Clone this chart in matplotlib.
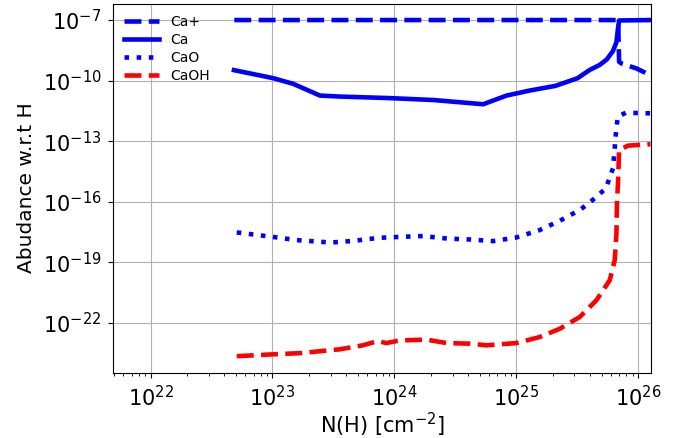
import numpy as np
import matplotlib
matplotlib.use('Agg')
import matplotlib.pyplot as plt
from matplotlib.ticker import NullLocator

# log10 N(H) and log10 abundance
x_cap = [22.687, 23.0, 23.5, 24.0, 24.5, 25.0, 25.5, 25.8, 25.835, 25.843, 25.863, 25.986, 26.10]
y_cap = [-7.0, -7.0, -7.0, -7.0, -7.0, -7.0, -7.0, -7.0, -7.0, -9.07, -9.15, -9.40, -9.73]

x_ca = [22.684, 23.007, 23.170, 23.389, 23.553, 23.936, 24.318, 24.728, 24.920, 25.111,
        25.321, 25.502, 25.602, 25.684, 25.742, 25.791, 25.821, 25.834, 25.843, 26.10]
y_ca = [-9.48, -9.88, -10.16, -10.74, -10.79, -10.86, -10.96, -11.17, -10.74, -10.49,
        -10.26, -9.88, -9.47, -9.22, -8.95, -8.55, -8.10, -7.40, -7.02, -7.0]

x_cao = [22.707, 23.0, 23.198, 23.48, 23.662, 23.867, 24.045, 24.236, 24.428, 24.619,
         24.81, 25.0, 25.193, 25.357, 25.52, 25.6, 25.657, 25.734, 25.793, 25.807,
         25.821, 25.834, 25.898, 26.10]
y_cao = [-17.52, -17.74, -17.90, -18.02, -17.94, -17.79, -17.74, -17.70, -17.82, -17.87,
         -17.95, -17.77, -17.40, -16.94, -16.41, -16.05, -15.75, -15.34, -14.34, -13.35,
         -12.28, -11.78, -11.59, -11.62]

x_caoh = [22.707, 23.0, 23.224, 23.551, 23.742, 23.865, 23.934, 24.045, 24.264, 24.428,
          24.619, 24.756, 25.0, 25.193, 25.357, 25.52, 25.657, 25.766, 25.807, 25.821,
          25.826, 25.834, 25.843, 25.916, 26.10]
y_caoh = [-23.65, -23.56, -23.50, -23.31, -23.11, -22.90, -23.0, -22.87, -22.83, -23.0,
          -23.03, -23.11, -23.0, -22.70, -22.29, -21.71, -20.88, -19.89, -18.90, -17.57,
          -15.92, -15.09, -13.44, -13.22, -13.15]

y_ticks = [1e-22, 1e-19, 1e-16, 1e-13, 1e-10, 1e-7]

lw = 3.3
fig = plt.figure(figsize=(6.87, 4.38), dpi=100)
ax = fig.add_axes([0.165, 0.149, 0.7825, 0.843])

ax.plot(10 ** np.array(x_cap), 10 ** np.array(y_cap), 'b--', lw=lw, label='Ca+')
ax.plot(10 ** np.array(x_ca), 10 ** np.array(y_ca), 'b-', lw=lw, label='Ca')
ax.plot(10 ** np.array(x_cao), 10 ** np.array(y_cao), 'b:', lw=lw, label='CaO')
ax.plot(10 ** np.array(x_caoh), 10 ** np.array(y_caoh), 'r--', lw=lw, label='CaOH')

ax.set_xscale('log')
ax.set_yscale('log')
ax.set_xlim(10 ** 21.695, 10 ** 26.104)
ax.set_ylim(10 ** -24.47, 10 ** -6.18)
ax.set_yticks(y_ticks)
ax.yaxis.set_minor_locator(NullLocator())

ax.set_xlabel('N(H) [cm$^{-2}$]', fontsize=15, labelpad=1)
ax.set_ylabel('Abudance w.r.t H', fontsize=14.5, labelpad=5)
ax.tick_params(labelsize=15, pad=5)
ax.grid(True, which='major', color='#b0b0b0', lw=0.8)

ax.legend(loc='upper left', fontsize=10, frameon=False, handlelength=2.5,
          labelspacing=0.3, borderaxespad=0.4)

fig.savefig('out.png', dpi=100)
